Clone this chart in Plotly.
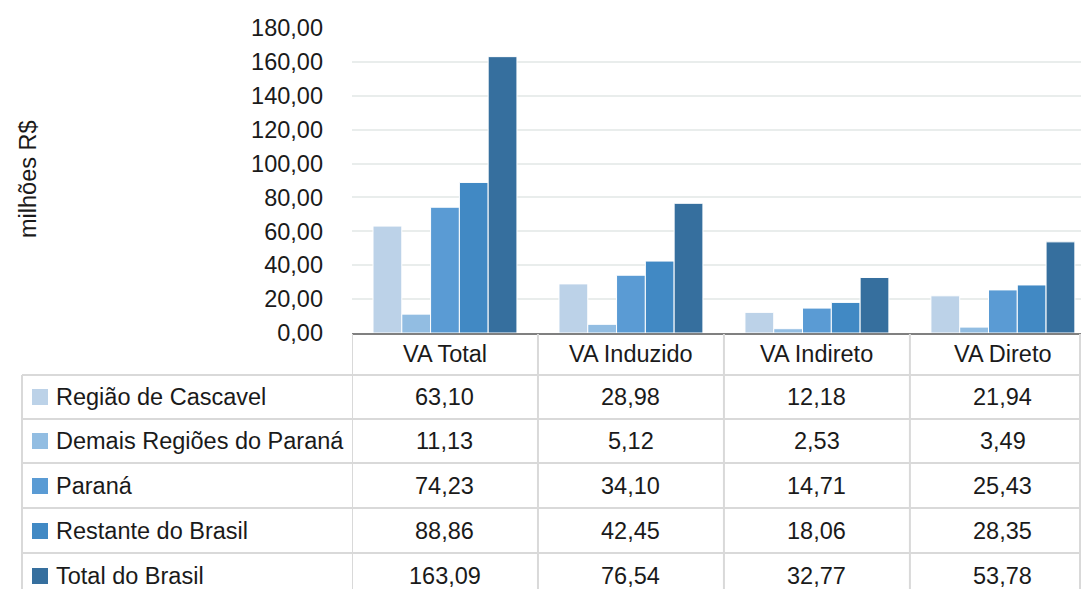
import plotly.graph_objects as go

categories = ["VA Total", "VA Induzido", "VA Indireto", "VA Direto"]
series_names = ["Região de Cascavel", "Demais Regiões do Paraná", "Paraná",
                "Restante do Brasil", "Total do Brasil"]
cascavel = [63.10, 28.98, 12.18, 21.94]
demais = [11.13, 5.12, 2.53, 3.49]
parana = [74.23, 34.10, 14.71, 25.43]
restante = [88.86, 42.45, 18.06, 28.35]
total_brasil = [163.09, 76.54, 32.77, 53.78]
series_values = [cascavel, demais, parana, restante, total_brasil]
y_ticks = [0, 20, 40, 60, 80, 100, 120, 140, 160, 180]
colors = ["#bcd2e8", "#92bde2", "#5a9bd4", "#4189c4", "#366f9e"]

W, H = 1081, 589
L, R, T, B = 352, 0, 28, 256
PW, PH = W - L - R, H - T - B
FONT = "Liberation Sans, Arial, sans-serif"
FS = 23.5
TXT = "#1a1a1a"
GRID = "#d9d9d9"


def py(p):
    return (H - B - p) / PH


def px(p):
    return (p - L) / PW


fig = go.Figure()
for name, vals, col in zip(series_names, series_values, colors):
    fig.add_trace(go.Bar(x=categories, y=vals, name=name,
                         marker=dict(color=col, line=dict(color="white", width=1))))

row_lines = [375, 419, 463, 508, 553]
row_centers = [397, 441, 486, 531, 576]
header_center = 354

shapes = []
for yl in row_lines:
    shapes.append(dict(type="line", xref="paper", yref="paper", x0=px(22), x1=1,
                       y0=py(yl), y1=py(yl), line=dict(color=GRID, width=2)))
shapes.append(dict(type="line", xref="paper", yref="paper", x0=px(22), x1=px(22),
                   y0=py(375), y1=py(600), line=dict(color=GRID, width=2)))
for b in [-0.5, 0.5, 1.5, 2.5]:
    shapes.append(dict(type="line", xref="x", yref="paper", x0=b, x1=b,
                       y0=py(334), y1=py(600), line=dict(color=GRID, width=2)))
shapes.append(dict(type="line", xref="paper", yref="paper", x0=px(1080), x1=px(1080),
                   y0=py(334), y1=py(600), line=dict(color=GRID, width=2)))
for i, col in enumerate(colors):
    c = row_centers[i]
    shapes.append(dict(type="rect", xref="paper", yref="paper",
                       x0=px(32), x1=px(48), y0=py(c - 8), y1=py(c + 8),
                       fillcolor=col, line=dict(width=0)))

annotations = []
for j, cat in enumerate(categories):
    annotations.append(dict(x=j, xref="x", y=py(header_center), yref="paper",
                            text=cat, showarrow=False, xanchor="center", yanchor="middle",
                            font=dict(size=FS, color=TXT, family=FONT)))
for i, (name, vals) in enumerate(zip(series_names, series_values)):
    c = row_centers[i]
    annotations.append(dict(x=px(54), xref="paper", y=py(c), yref="paper",
                            text=name, showarrow=False, xanchor="left", yanchor="middle",
                            font=dict(size=FS, color=TXT, family=FONT)))
    for j, v in enumerate(vals):
        annotations.append(dict(x=j, xref="x", y=py(c), yref="paper",
                                text=f"{v:.2f}".replace(".", ","), showarrow=False,
                                xanchor="center", yanchor="middle",
                                font=dict(size=FS, color=TXT, family=FONT)))
annotations.append(dict(x=px(28), xref="paper", y=py(179), yref="paper",
                        text="milhões R$", textangle=-90, showarrow=False,
                        xanchor="center", yanchor="middle",
                        font=dict(size=FS, color=TXT, family=FONT)))

fig.update_layout(
    width=W, height=H,
    margin=dict(l=L, r=R, t=T, b=B, pad=0),
    paper_bgcolor="white", plot_bgcolor="white",
    barmode="group", bargap=0.226, bargroupgap=0,
    showlegend=False,
    separators=",.",
    font=dict(family=FONT, size=FS, color=TXT),
    shapes=shapes, annotations=annotations,
    xaxis=dict(range=[-0.5, 3.42], showticklabels=False, ticks="",
               showline=True, linecolor="#808080", linewidth=2,
               showgrid=False, zeroline=False, fixedrange=True),
    yaxis=dict(range=[0, 180], tickvals=y_ticks, tickformat=".2f",
               showgrid=True, gridcolor="#e9edec", gridwidth=2,
               zeroline=False, showline=False, ticks="",
               ticklabelstandoff=28,
               tickfont=dict(size=FS, color=TXT, family=FONT)),
)

fig.write_html("out.html", config={"displayModeBar": False},
               post_script="document.body.style.margin='0';document.body.style.overflow='hidden';")
